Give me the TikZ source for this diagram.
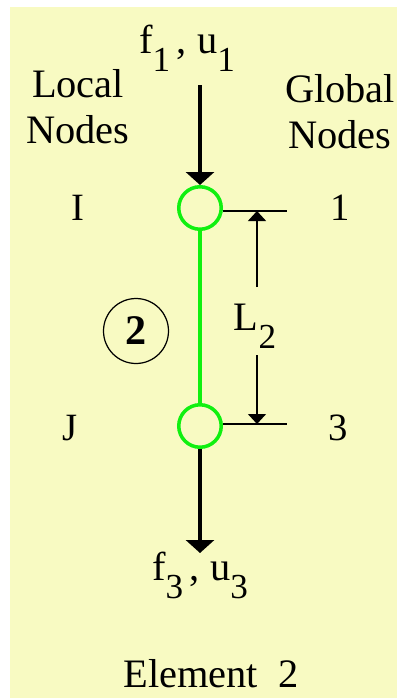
\documentclass[tikz,border=0pt]{standalone}
\usepackage{fontspec}
\setmainfont{Liberation Serif}
\usetikzlibrary{arrows.meta,positioning}
\definecolor{ELPaper}{HTML}{F8FAC2}
\definecolor{ELGreen}{HTML}{10F010}
\definecolor{ELInk}{HTML}{000000}
\newcommand{\lowsub}[1]{\raisebox{-0.45em}{\fontsize{20}{20}\selectfont #1}}
\tikzset{
  force/.style={-{Triangle[length=2.6mm,width=5.6mm]},ELInk,line width=2.3pt},
  dim/.style={-{Triangle[length=2mm,width=3.6mm]},ELInk,line width=0.85pt},
  tick/.style={ELInk,line width=1.1pt},
  bar/.style={ELGreen,line width=1.9pt},
  joint/.style={circle,draw=ELGreen,line width=2pt,minimum size=0.85cm,inner sep=0pt},
  tag/.style={circle,draw=ELInk,line width=0.7pt,minimum size=1.3cm,inner sep=0pt,
              font=\fontsize{24}{26}\selectfont\bfseries},
  label/.style={text=ELInk,font=\fontsize{23}{26}\selectfont,inner sep=0pt,align=center},
  nodelabel/.style={label,anchor=base,font=\fontsize{22}{24}\selectfont},
}
\begin{document}
\begin{tikzpicture}[x=0.02cm,y=-0.02cm]
  \useasboundingbox (0,0) rectangle (397,700);
  \fill[ELPaper] (10,7) rectangle (397,698);

  % joints and bar
  \node[joint] (nI) at (200,208) {};
  \node[joint] (nJ) at (200,426) {};
  \draw[bar] (nI) -- (nJ);

  % loads
  \coordinate (ftop) at (200,85);
  \coordinate (fbot) at (200,553);
  \draw[force] (ftop) -- (nI.north);
  \draw[force] (nJ.south) -- (fbot);
  \node[label,anchor=base] (load1) at (187,53) {f\lowsub{1}\,, u\lowsub{1}};
  \node[label,anchor=base] (load3) at (200,580) {f\lowsub{3}\,, u\lowsub{3}};

  % length dimension
  \coordinate (tickI) at (287,211);
  \coordinate (tickJ) at (287,424);
  \draw[tick] (nI.east |- tickI) -- (tickI);
  \draw[tick] (nJ.east |- tickJ) -- (tickJ);
  \coordinate (dimA) at (257,287);
  \coordinate (dimB) at (257,355);
  \draw[dim] (dimA) -- (dimA |- tickI);
  \draw[dim] (dimB) -- (dimB |- tickJ);
  \node[label,anchor=base] (len) at (255,330) {L\lowsub{2}};

  % element number
  \node[tag] (elem) at (136,331) {2};

  % node numbering
  \node[label] (local) at (78,107) {Local\\Nodes};
  \node[label] (global) at (340,112) {Global\\Nodes};
  \node[nodelabel] (locI) at (78,220) {I};
  \node[nodelabel] (gloI) at (340,220) {1};
  \node[nodelabel] (locJ) at (70,440) {J};
  \node[nodelabel] (gloJ) at (338,440) {3};

  \node[label,anchor=base] (title) at (211,687) {Element\hspace{0.5em}2};
\end{tikzpicture}
\end{document}
